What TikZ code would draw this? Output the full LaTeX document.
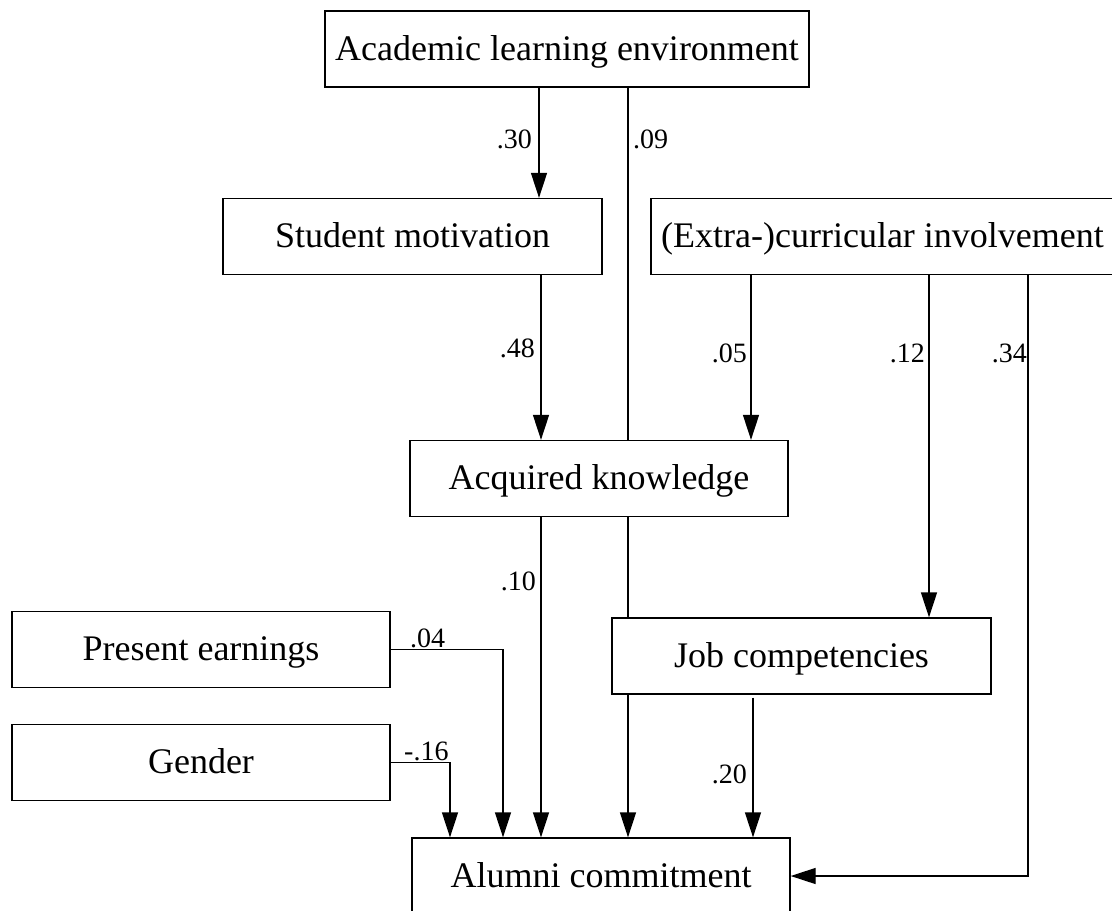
\documentclass[tikz,border=0pt]{standalone}
\usepackage{fontspec}
\setmainfont{Liberation Serif}
\usetikzlibrary{arrows.meta}
\begin{document}
\begin{tikzpicture}[x=1pt,y=-1pt,
  box/.style={draw, line width=1.3pt, inner sep=0pt,
    font=\fontsize{36}{40}\selectfont, text height=27pt, text depth=5pt,
    minimum height=76pt},
  conn/.style={line width=1.3pt},
  arr/.style={conn, -{Triangle[length=25pt,width=16pt]}},
  coef/.style={font=\fontsize{28}{32}\selectfont, inner sep=0pt}]
\useasboundingbox (0,0) rectangle (1112,911);

% variables
\node[box, minimum width=484pt] (acad)  at (567,49)    {Academic learning environment};
\node[box, minimum width=379pt] (stud)  at (412.5,236.5) {Student motivation};
\node[box, minimum width=463pt] (extra) at (882.5,236.5) {(Extra-)curricular involvement};
\node[box, minimum width=378pt] (acq)   at (599,478.5)  {Acquired knowledge};
\node[box, minimum width=379pt] (job)   at (801.5,656)  {Job competencies};
\node[box, minimum width=378pt] (pe)    at (201,649.5)  {Present earnings};
\node[box, minimum width=378pt] (gen)   at (201,762.5)  {Gender};
\node[box, minimum width=378pt] (alum)  at (601,876)    {Alumni commitment};

% x positions of the vertical paths
\coordinate (c30) at (539,0);
\coordinate (c09) at (628,0);
\coordinate (c48) at (541,0);
\coordinate (c05) at (751,0);
\coordinate (c12) at (929,0);
\coordinate (c34) at (1028,0);
\coordinate (c10) at (541,0);
\coordinate (c04) at (503,0);
\coordinate (c16) at (450,0);
\coordinate (c20) at (753,0);

% paths
\draw[arr]  (acad.south -| c30) -- (stud.north -| c30);
\draw[conn] (acad.south -| c09) -- (acq.north -| c09);
\draw[conn] (acq.south -| c09)  -- (job.north -| c09);
\draw[arr]  (job.south -| c09)  -- (alum.north -| c09);
\draw[arr]  (stud.south -| c48) -- (acq.north -| c48);
\draw[arr]  (extra.south -| c05) -- (acq.north -| c05);
\draw[arr]  (extra.south -| c12) -- (job.north -| c12);
\draw[arr]  (extra.south -| c34) |- (alum.east);
\draw[arr]  (acq.south -| c10)  -- (alum.north -| c10);
\draw[arr]  (pe.east)  -| (alum.north -| c04);
\draw[arr]  (gen.east) -| (alum.north -| c16);
\draw[arr, shorten <=3pt] (job.south -| c20) -- (alum.north -| c20);

% path coefficients
\node[coef, anchor=base east] (l30) at (532,148) {.30};
\node[coef, anchor=base west] (l09) at (633,148) {.09};
\node[coef, anchor=base east] (l48) at (535,357) {.48};
\node[coef, anchor=base east] (l05) at (747,362) {.05};
\node[coef, anchor=base east] (l12) at (925,362) {.12};
\node[coef, anchor=base east] (l34) at (1027,362) {.34};
\node[coef, anchor=base east] (l10) at (536,590) {.10};
\node[coef, anchor=base west] (l04) at (410,647) {.04};
\node[coef, anchor=base west] (l16) at (404,760) {-.16};
\node[coef, anchor=base east] (l20) at (747,783) {.20};
\end{tikzpicture}
\end{document}
